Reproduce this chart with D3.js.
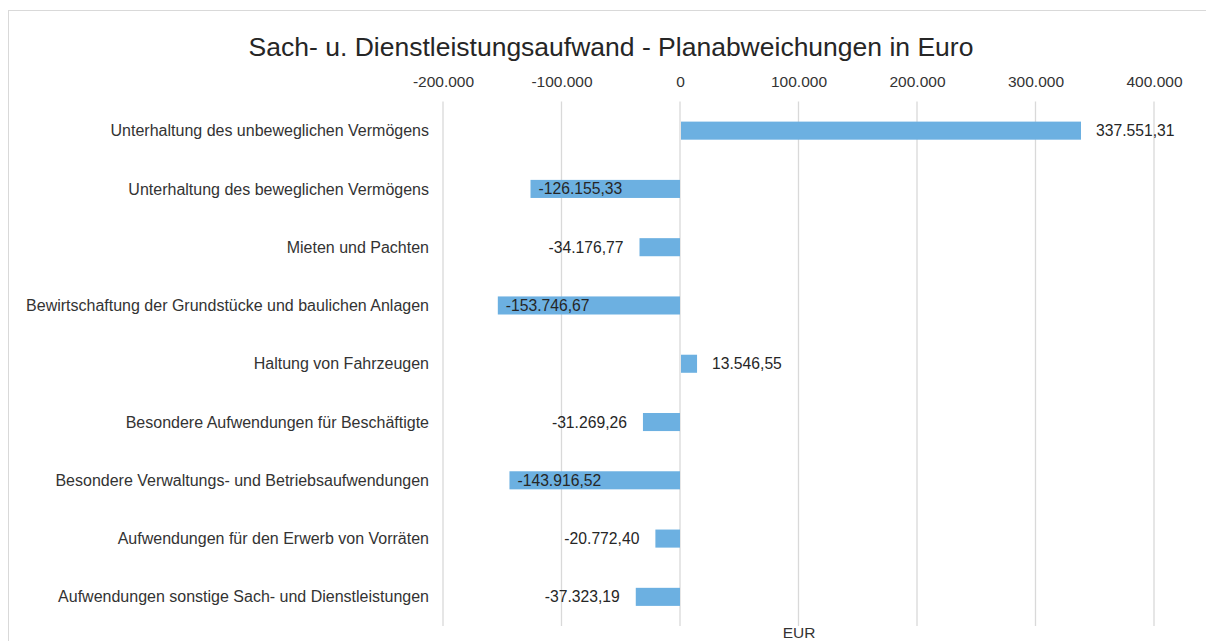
<!DOCTYPE html>
<html>
<head>
<meta charset="utf-8">
<script src="https://cdn.jsdelivr.net/npm/d3@7"></script>
<style>
  body { margin: 0; background: #fff; }
  text { font-family: "Liberation Sans", Arial, sans-serif; }
</style>
</head>
<body>
<div id="chart"></div>
<script>
const categories = [
  "Unterhaltung des unbeweglichen Vermögens",
  "Unterhaltung des beweglichen Vermögens",
  "Mieten und Pachten",
  "Bewirtschaftung der Grundstücke und baulichen Anlagen",
  "Haltung von Fahrzeugen",
  "Besondere Aufwendungen für Beschäftigte",
  "Besondere Verwaltungs- und Betriebsaufwendungen",
  "Aufwendungen für den Erwerb von Vorräten",
  "Aufwendungen sonstige Sach- und Dienstleistungen"
];
const values = [337551.31, -126155.33, -34176.77, -153746.67, 13546.55, -31269.26, -143916.52, -20772.40, -37323.19];
const tickValues = [-200000, -100000, 0, 100000, 200000, 300000, 400000];

const width = 1206, height = 641;
const de = d3.formatLocale({ decimal: ",", thousands: ".", grouping: [3], currency: ["", " €"], minus: "-" });
const fmtTick = de.format(",.0f");
const fmtVal = de.format(",.2f");

const svg = d3.select("#chart").append("svg").attr("width", width).attr("height", height)

// chart frame
svg.append("rect")
  .attr("x", 8.5).attr("y", 10.5)
  .attr("width", 1300).attr("height", 700)
  .attr("fill", "#fff")
  .attr("stroke", "#d9d9d9")

const x = d3.scaleLinear().domain([-200000, 400000]).range([443, 1154]);
const y = d3.scaleBand().domain(categories).range([101.5, 626]).paddingInner(0.69).paddingOuter(0.345);

// gridlines
svg.append("g")
  .selectAll("line")
  .data(tickValues)
  .join("line")
  .attr("x1", d => x(d)).attr("x2", d => x(d))
  .attr("y1", 101.5).attr("y2", 626)
  .attr("stroke", "#d9d9d9")
  .attr("stroke-width", 1.3)

// top axis labels
const xAxis = d3.axisTop(x).tickValues(tickValues).tickFormat(fmtTick).tickSize(0).tickPadding(0);
const gx = svg.append("g").attr("transform", "translate(0,87)").call(xAxis);
gx.select(".domain").remove();
gx.selectAll("text").style("font-size", "15.5px").attr("fill", "#333");

// bars
svg.append("g")
  .selectAll("rect")
  .data(values)
  .join("rect")
  .attr("x", d => x(Math.min(0, d)) + (d > 0 ? 1 : 0))
  .attr("y", (d, i) => y(categories[i]))
  .attr("width", d => Math.abs(x(d) - x(0)))
  .attr("height", y.bandwidth())
  .attr("fill", "#6cb0e1")

// category labels
svg.append("g")
  .selectAll("text")
  .data(categories)
  .join("text")
  .attr("x", 429)
  .attr("y", d => y(d) + y.bandwidth() / 2)
  .attr("dy", "0.35em")
  .attr("text-anchor", "end")
  .style("font-size", "16px")
  .attr("fill", "#333")
  .text(d => d)

// value labels
svg.append("g")
  .selectAll("text")
  .data(values)
  .join("text")
  .attr("x", d => {
    if (d >= 0) return x(d) + 16;
    if (d < -100000) return x(d) + 8;
    return x(d) - 16;
  })
  .attr("y", (d, i) => y(categories[i]) + y.bandwidth() / 2)
  .attr("dy", "0.35em")
  .attr("text-anchor", d => (d >= 0 || d < -100000) ? "start" : "end")
  .style("font-size", "15.7px")
  .attr("fill", "#262626")
  .text(d => fmtVal(d))

// title
svg.append("text")
  .attr("x", 611)
  .attr("y", 56)
  .attr("text-anchor", "middle")
  .style("font-size", "26.5px")
  .attr("fill", "#262626")
  .text("Sach- u. Dienstleistungsaufwand - Planabweichungen in Euro")

// axis title
svg.append("text")
  .attr("x", 799)
  .attr("y", 638)
  .attr("text-anchor", "middle")
  .style("font-size", "15.5px")
  .attr("fill", "#333")
  .text("EUR")
</script>
</body>
</html>
